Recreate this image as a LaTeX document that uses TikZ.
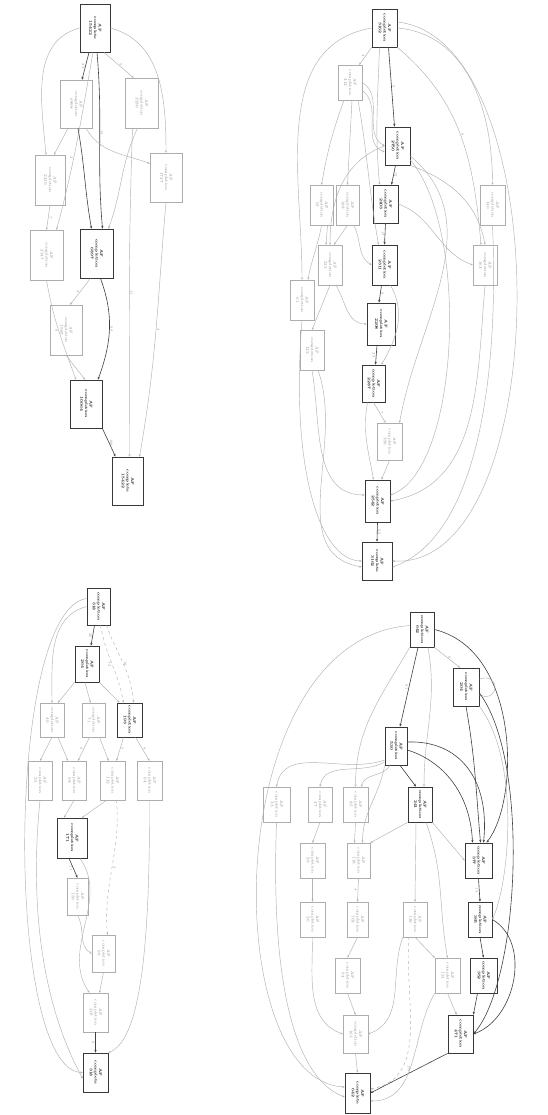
\documentclass[tikz,border=0pt]{standalone}
\usepackage{graphicx}
\usetikzlibrary{arrows.meta}
% box: name, x1, x2, y1, y2 (page units, y downwards), style, three lines
\newcommand\gb[7]{\node[#6,minimum width={(#3-#2)*1pt},minimum height={(#5-#4)*1pt}] (#1) at ({(#2+#3)/2},{(#4+#5)/2}) {\rotatebox{-90}{\begin{tabular}{@{}c@{}}#7\end{tabular}}};}
\newcommand\rl[1]{\rotatebox{-90}{#1}}
\tikzset{
 box/.style={draw=black!32,line width=0.45pt,rectangle,inner sep=0pt,text=black!45,font=\fontsize{3.9}{4.6}\selectfont},
 bbox/.style={draw=black!78,line width=0.75pt,rectangle,inner sep=0pt,text=black!90,font=\fontsize{3.9}{4.6}\selectfont\bfseries},
 fe/.style={draw=black!30,line width=0.45pt,-{Stealth[length=2.4pt,width=2pt]}},
 de/.style={draw=black!75,line width=0.6pt,-{Stealth[length=2.8pt,width=2.3pt]}},
 el/.style={font=\fontsize{3.4}{4}\selectfont,text=black!45,inner sep=0.8pt},
}
\begin{document}
\begin{tikzpicture}[x=1pt,y=-1pt]
\fill[white] (0,0) rectangle (547,1115);
\useasboundingbox (0,0) rectangle (547,1115);

% ---------------- upper left graph ----------------
\gb{a1}{80}{110}{4}{52}{bbox}{AF\\complete\\15422}
\gb{a2}{60}{92}{80}{128}{box}{AF\\completion\\6898}
\gb{a3}{125}{158}{78}{128}{box}{AF\\completion\\2230}
\gb{a4}{35}{65}{155}{205}{box}{AF\\completion\\2210}
\gb{a5}{150}{182}{153}{202}{box}{AF\\completion\\1727}
\gb{a6}{30}{63}{230}{280}{box}{AF\\completion\\2147}
\gb{a7}{80}{113}{229}{278}{bbox}{AF\\completion\\6897}
\gb{a8}{50}{82}{305}{355}{box}{AF\\completion\\1987}
\gb{a9}{70}{102}{380}{428}{bbox}{AF\\completion\\10064}
\gb{a10}{112}{143}{457}{505}{bbox}{AF\\complete\\15422}

\draw[de] ([xshift=-6pt]a1.south) -- node[el,left]{\rl{23}} ([xshift=6pt]a2.north);
\draw[fe] ([xshift=9pt]a1.south) -- node[el,right]{\rl{5}} ([xshift=-8pt]a3.north);
\draw[fe] (a1.east) to[out=-15,in=90] (a5.north);
\draw[fe] (a1.west) to[out=195,in=95] ([xshift=-4pt]a4.north);
\draw[de] ([xshift=2pt]a1.south) to[out=-85,in=95] node[el,right,pos=0.45]{\rl{14}} ([xshift=6pt]a7.north);
\draw[fe] ([xshift=-2pt]a1.south) to[out=-100,in=75] node[el,left,pos=0.6]{\rl{2}} ([xshift=10pt]a6.north);
\draw[fe] ([xshift=10pt]a2.south) to[out=-60,in=160] ([yshift=14pt]a5.west);
\draw[de] ([xshift=2pt]a2.south) to[out=-80,in=100] ([xshift=-5pt]a7.north);
\draw[fe] ([xshift=-8pt]a2.south) -- ([xshift=4pt]a4.north);
\draw[fe] ([xshift=-4pt]a3.south) to[out=-115,in=70] ([xshift=12pt]a7.north);
\draw[fe] ([xshift=-9pt]a3.south) to[out=-92,in=90] node[el,right]{\rl{11}} ([xshift=2pt]a10.north);
\draw[fe] (a5.south) to[out=-95,in=80] node[el,right]{\rl{3}} ([xshift=12pt]a10.north);
\draw[fe] (a4.south) -- node[el,right]{\rl{7}} (a6.north);
\draw[fe] (a6.south) to[out=-80,in=110] node[el,left]{\rl{9}} ([xshift=-10pt]a9.north);
\draw[fe] ([xshift=-6pt]a7.south) -- node[el,left]{\rl{4}} ([xshift=4pt]a8.north);
\draw[de] ([xshift=4pt]a7.south) to[out=-70,in=70] node[el,right]{\rl{64}} ([xshift=12pt]a9.north);
\draw[fe] (a8.south) -- ([xshift=-1pt]a9.north);
\draw[de] (a9.south east) -- node[el,right]{\rl{100}} ([xshift=-12pt]a10.north);

% ---------------- upper right graph ----------------
\gb{b1}{372}{397}{9}{47}{bbox}{AF\\completion\\3162}
\gb{b2}{338}{362}{65}{100}{box}{AF\\completion\\412}
\gb{b3}{385}{410}{127}{165}{bbox}{AF\\completion\\2750}
\gb{b4}{310}{333}{185}{225}{box}{AF\\completion\\97}
\gb{b5}{336}{359}{185}{225}{box}{AF\\completion\\188}
\gb{b6}{373}{398}{185}{223}{bbox}{AF\\completion\\2403}
\gb{b7}{480}{505}{185}{225}{box}{AF\\completion\\140}
\gb{b8}{318}{342}{245}{285}{box}{AF\\completion\\215}
\gb{b9}{372}{397}{245}{285}{bbox}{AF\\completion\\2311}
\gb{b10}{473}{497}{245}{285}{box}{AF\\completion\\163}
\gb{b11}{290}{314}{280}{320}{box}{AF\\completion\\61}
\gb{b12}{367}{395}{303}{345}{bbox}{AF\\completion\\2208}
\gb{b13}{300}{324}{330}{370}{box}{AF\\completion\\122}
\gb{b14}{362}{385}{365}{402}{bbox}{AF\\completion\\2287}
\gb{b15}{377}{402}{423}{460}{box}{AF\\completion\\356}
\gb{b16}{365}{390}{480}{522}{bbox}{AF\\completion\\2542}
\gb{b17}{362}{392}{542}{580}{bbox}{AF\\complete\\3162}

\draw[fe] (b1.south west) -- node[el,left]{\rl{4}} ([xshift=-3pt]b2.north east);
\draw[de] ([xshift=4pt]b1.south) -- node[el,right]{\rl{9}} ([xshift=-3pt]b3.north);
\draw[fe] ([xshift=-5pt]b1.south) to[out=-92,in=95] ([xshift=-6pt]b6.north);
\draw[fe] (b1.east) to[out=-5,in=90] (b7.north);
\draw[fe] (b1.south east) to[out=-40,in=95] node[el,right]{\rl{6}} ([xshift=-4pt]b10.north);
\draw[fe] (b1.west) to[out=190,in=90] (b11.north);
\draw[fe] ([yshift=6pt]b1.east) .. controls (560,40) and (555,570) .. (b17.east);
\draw[fe] (b2.east) to[out=-30,in=150] (b3.west);
\draw[fe] ([yshift=-8pt]b2.east) to[out=-35,in=160] ([yshift=-6pt]b3.west);
\draw[fe] ([xshift=-6pt]b2.south) to[out=-110,in=80] (b4.north);
\draw[fe] ([xshift=2pt]b2.south) -- (b5.north);
\draw[fe] ([xshift=8pt]b2.south) to[out=-80,in=100] ([xshift=-6pt]b9.north);
\draw[de] ([xshift=-2pt]b3.south) -- node[el,right]{\rl{12}} ([xshift=6pt]b6.north);
\draw[fe] (b3.south east) to[out=-20,in=100] (b10.north);
\draw[fe] ([yshift=-10pt]b3.east) to[out=-40,in=80] ([xshift=10pt]b15.north);
\draw[fe] ([yshift=-14pt]b3.east) .. controls (470,230) and (460,470) .. ([yshift=6pt]b16.east);
\draw[fe] (b3.west) to[out=200,in=90] (b8.north);
\draw[fe] (b4.south) to[out=-100,in=80] ([xshift=6pt]b11.north);
\draw[fe] ([xshift=6pt]b4.south) -- ([xshift=-4pt]b8.north);
\draw[fe] (b5.south) -- ([xshift=4pt]b8.north);
\draw[fe] ([xshift=6pt]b5.south) to[out=-60,in=150] (b9.west);
\draw[de] (b6.south) -- node[el,left]{\rl{17}} (b9.north);
\draw[fe] (b6.east) to[out=-20,in=160] (b10.west);
\draw[fe] (b7.south) .. controls (500,400) and (470,540) .. ([yshift=-6pt]b17.east);
\draw[fe] (b8.south) -- (b13.north);
\draw[fe] ([xshift=6pt]b8.south) to[out=-60,in=180] (b12.west);
\draw[de] ([xshift=-3pt]b9.south) -- node[el,right]{\rl{9}} ([xshift=-2pt]b12.north);
\draw[fe] ([xshift=6pt]b9.south) to[out=-60,in=60] ([xshift=8pt]b14.north);
\draw[fe] (b10.south) to[out=-95,in=10] (b16.east);
\draw[fe] (b11.south) .. controls (290,470) and (320,560) .. (b17.west);
\draw[de] ([xshift=-4pt]b12.south) -- node[el,left]{\rl{22}} ([xshift=2pt]b14.north);
\draw[fe] (b13.south) to[out=-80,in=180] ([yshift=6pt]b16.west);
\draw[fe] ([xshift=6pt]b13.south) to[out=-70,in=170] ([yshift=-6pt]b17.west);
\draw[fe] (b14.south) -- node[el,right]{\rl{7}} ([xshift=-4pt]b15.north);
\draw[fe] ([xshift=-6pt]b14.south) to[out=-100,in=100] ([xshift=-4pt]b16.north);
\draw[fe] (b15.south) -- ([xshift=4pt]b16.north);
\draw[de] (b16.south) -- node[el,right]{\rl{25}} (b17.north);

% ---------------- lower left graph ----------------
\gb{c1}{87}{110}{588}{625}{bbox}{AF\\completion\\318}
\gb{c2}{75}{99}{646}{682}{bbox}{AF\\completion\\264}
\gb{c3}{82}{105}{703}{737}{box}{AF\\completion\\71}
\gb{c4}{117}{142}{703}{737}{bbox}{AF\\completion\\193}
\gb{c13}{40}{64}{703}{737}{box}{AF\\completion\\40}
\gb{c14}{28}{52}{761}{800}{box}{AF\\completion\\35}
\gb{c5}{62}{86}{761}{800}{box}{AF\\completion\\58}
\gb{c6}{100}{125}{761}{800}{box}{AF\\completion\\112}
\gb{c7}{137}{162}{761}{800}{box}{AF\\completion\\64}
\gb{c8}{57}{87}{818}{858}{bbox}{AF\\completion\\171}
\gb{c9}{67}{88}{878}{915}{box}{AF\\completion\\150}
\gb{c10}{92}{115}{935}{972}{box}{AF\\completion\\96}
\gb{c11}{83}{108}{993}{1032}{box}{AF\\completion\\207}
\gb{c12}{83}{108}{1053}{1092}{bbox}{AF\\complete\\318}

\draw[de] ([xshift=-4pt]c1.south) -- node[el,left]{\rl{26}} ([xshift=4pt]c2.north);
\draw[fe,dashed] ([xshift=2pt]c1.south) to[out=-80,in=100] node[el,left]{\rl{12}} ([xshift=-6pt]c4.north);
\draw[fe,dashed] ([xshift=8pt]c1.south) to[out=-70,in=95] node[el,right]{\rl{10}} ([xshift=4pt]c4.north);
\draw[fe] (c1.west) to[out=195,in=90] (c13.north);
\draw[fe] ([yshift=8pt]c1.west) .. controls (5,610) and (5,1070) .. (c12.west);
\draw[fe] ([xshift=-2pt]c2.south) -- ([xshift=-3pt]c3.north);
\draw[fe] (c2.south east) -- ([xshift=-10pt]c4.north);
\draw[fe] (c2.south west) -- ([xshift=6pt]c13.north);
\draw[fe] ([xshift=-4pt]c3.south) -- node[el,left]{\rl{8}} ([xshift=4pt]c5.north);
\draw[fe] ([xshift=6pt]c3.south) -- ([xshift=-4pt]c6.north);
\draw[fe] ([xshift=-6pt]c4.south) -- node[el,right]{\rl{5}} ([xshift=4pt]c6.north);
\draw[fe] ([xshift=6pt]c4.south) -- node[el,right]{\rl{8}} (c7.north);
\draw[fe] (c13.south) -- (c14.north);
\draw[fe] ([xshift=6pt]c13.south) -- ([xshift=-6pt]c5.north);
\draw[fe] (c5.south) -- ([xshift=-8pt]c8.north);
\draw[fe] ([xshift=-6pt]c6.south) -- ([xshift=10pt]c8.north);
\draw[fe,dashed] ([xshift=4pt]c6.south) to[out=-85,in=95] node[el,right]{\rl{3}} ([xshift=4pt]c10.north);
\draw[fe] (c7.south) .. controls (150,950) and (140,1040) .. (c12.north east);
\draw[fe] (c14.south) .. controls (30,900) and (40,1000) .. ([yshift=-6pt]c12.west);
\draw[de] ([xshift=-3pt]c8.south) -- node[el,left]{\rl{11}} (c9.north);
\draw[fe] ([xshift=8pt]c8.south) .. controls (110,900) and (60,950) .. ([xshift=-6pt]c11.north);
\draw[fe] (c9.south) to[out=-60,in=150] (c10.west);
\draw[fe] (c10.south) -- ([xshift=4pt]c11.north);
\draw[de] (c11.south) -- node[el,left]{\rl{8}} (c12.north);

% ---------------- lower right graph ----------------
\gb{d1}{410}{434}{612}{647}{bbox}{AF\\completion\\642}
\gb{d2}{453}{479}{668}{706}{bbox}{AF\\completion\\204}
\gb{d3}{385}{407}{727}{765}{bbox}{AF\\completion\\530}
\gb{d4}{263}{290}{787}{822}{box}{AF\\completion\\33}
\gb{d5}{308}{332}{787}{822}{box}{AF\\completion\\47}
\gb{d6}{343}{368}{787}{822}{box}{AF\\completion\\85}
\gb{d7}{408}{432}{787}{822}{bbox}{AF\\completion\\241}
\gb{d19}{300}{325}{843}{878}{box}{AF\\completion\\29}
\gb{d8}{347}{370}{843}{878}{box}{AF\\completion\\118}
\gb{d9}{465}{492}{843}{878}{bbox}{AF\\completion\\377}
\gb{d20}{300}{325}{902}{937}{box}{AF\\completion\\26}
\gb{d10}{347}{368}{902}{937}{box}{AF\\completion\\102}
\gb{d11}{403}{427}{902}{937}{box}{AF\\completion\\139}
\gb{d12}{468}{492}{902}{937}{bbox}{AF\\completion\\365}
\gb{d13}{335}{360}{958}{993}{box}{AF\\completion\\94}
\gb{d14}{435}{460}{958}{993}{box}{AF\\completion\\121}
\gb{d15}{470}{497}{958}{993}{bbox}{AF\\completion\\352}
\gb{d16}{343}{368}{1015}{1053}{box}{AF\\completion\\163}
\gb{d17}{448}{473}{1015}{1053}{bbox}{AF\\completion\\471}
\gb{d18}{345}{370}{1073}{1113}{bbox}{AF\\complete\\642}

\draw[fe] ([yshift=4pt]d1.west) .. controls (218,640) and (218,1080) .. ([yshift=6pt]d18.west);
\draw[fe] (d1.south east) -- node[el,right]{\rl{6}} ([xshift=-6pt]d2.north);
\draw[de] ([xshift=-4pt]d1.south) -- node[el,left]{\rl{81}} ([xshift=4pt]d3.north);
\draw[fe] (d1.south west) to[out=-120,in=90] (d6.north);
\draw[fe] ([xshift=6pt]d1.south) to[out=-80,in=90] ([xshift=4pt]d7.north);
\draw[de] (d1.east) .. controls (520,650) and (520,800) .. ([xshift=8pt]d9.north);
\draw[fe] ([yshift=8pt]d2.east) .. controls (500,672) and (500,702) .. ([yshift=-8pt]d2.east);
\draw[de] (d2.south) to[out=-80,in=95] ([xshift=2pt]d9.north);
\draw[fe] (d2.south east) .. controls (520,760) and (510,880) .. (d12.east);
\draw[de] ([yshift=-6pt]d2.east) .. controls (530,760) and (520,980) .. (d17.east);
\draw[fe] ([yshift=-14pt]d3.west) to[out=200,in=80] (d4.north);
\draw[fe] ([yshift=-16pt]d3.west) to[out=210,in=80] (d5.north);
\draw[fe] ([xshift=-6pt]d3.south) to[out=-120,in=80] ([xshift=6pt]d6.north);
\draw[de] ([xshift=4pt]d3.south) -- ([xshift=-4pt]d7.north);
\draw[de] ([yshift=-4pt]d3.east) .. controls (440,760) and (470,790) .. ([xshift=-6pt]d9.north);
\draw[de] ([yshift=4pt]d3.east) .. controls (460,740) and (490,780) .. ([xshift=5pt]d9.north);
\draw[fe] (d3.south west) to[out=-100,in=90] ([xshift=4pt]d8.north);
\draw[fe] (d7.south east) -- (d9.west);
\draw[fe] ([xshift=-4pt]d7.south) -- (d11.north);
\draw[fe] ([xshift=6pt]d7.south) to[out=-70,in=100] (d14.north);
\draw[fe] (d7.south west) -- (d8.north east);
\draw[fe] (d6.south) -- ([xshift=-4pt]d8.north);
\draw[fe] (d8.south) -- node[el,left]{\rl{4}} (d10.north);
\draw[de] (d9.south) -- node[el,left]{\rl{12}} (d12.north);
\draw[de] (d12.south) -- (d15.north);
\draw[fe] (d11.south) -- (d14.north west);
\draw[de] ([xshift=-6pt]d15.south) -- (d17.north east);
\draw[fe] (d14.south) -- ([xshift=-4pt]d17.north);
\draw[de] (d12.east) to[out=-30,in=20] (d17.east);
\draw[de] (d17.south west) -- node[el,above]{\rl{179}} (d18.east);
\draw[fe] (d10.south) -- (d13.north);
\draw[fe] (d13.south) -- (d16.north);
\draw[fe] (d16.south) -- (d18.north);
\draw[fe] (d4.south) .. controls (270,1000) and (300,1080) .. ([yshift=-4pt]d18.west);
\draw[fe] (d5.south) -- (d19.north);
\draw[fe] (d19.south) -- (d20.north);
\draw[fe] (d20.south) to[out=-90,in=160] (d16.west);
\draw[fe] (d11.south west) to[out=-110,in=20] (d16.east);
\draw[fe,dashed] ([xshift=-6pt]d11.south) to[out=-95,in=10] ([yshift=4pt]d18.east);
\draw[fe] (d14.south west) to[out=-120,in=0] ([yshift=-8pt]d18.east);
\end{tikzpicture}
\end{document}
